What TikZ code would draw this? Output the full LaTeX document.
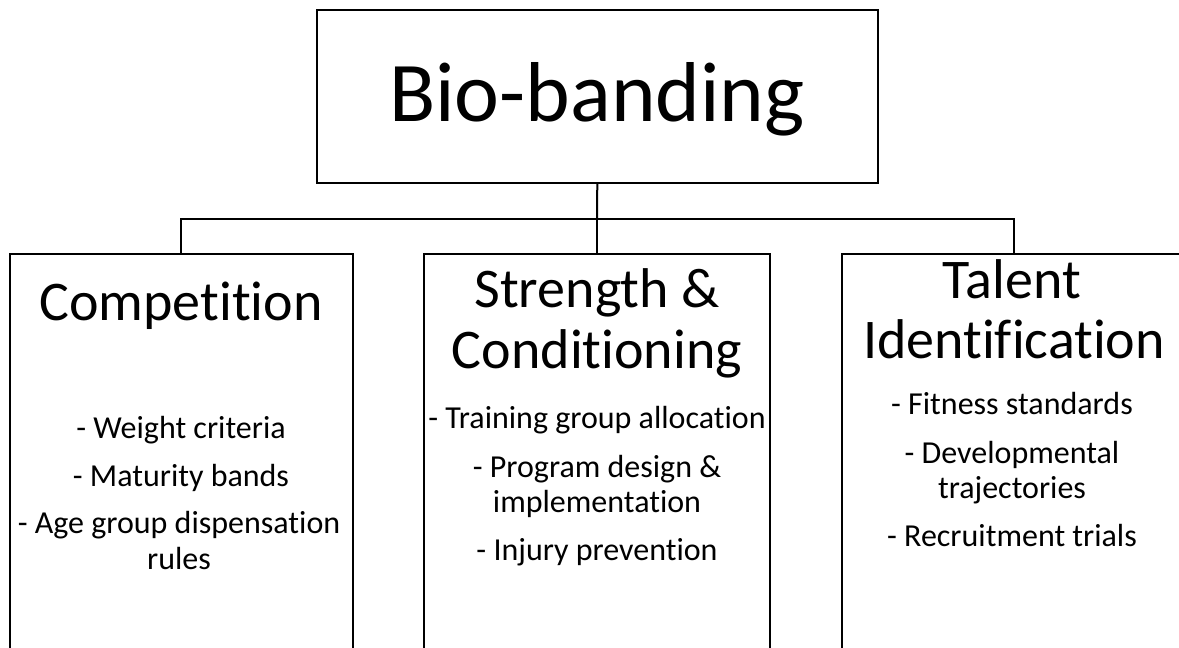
\documentclass[tikz,border=0pt]{standalone}
\usepackage{fontspec}
\setmainfont{Carlito}[Ligatures=NoCommon]
\begin{document}
\begin{tikzpicture}[x=1pt,y=-1pt,
  box/.style={draw=black,line width=2pt,rectangle,inner sep=0pt,fill=none},
  conn/.style={draw=black,line width=2pt},
  bigtitle/.style={font=\fontsize{85}{100}\selectfont,anchor=base,inner sep=0pt},
  subtitle/.style={font=\fontsize{56}{66}\selectfont,anchor=base,inner sep=0pt},
  item/.style={font=\fontsize{32}{35}\selectfont,anchor=base,inner sep=0pt}]
\useasboundingbox (0,0) rectangle (1179,648);
\clip (0,0) rectangle (1179,648);
% boxes
\node[box,minimum width=561pt,minimum height=173pt] (top) at (597.3,96.3) {};
\node[box,minimum width=342.7pt,minimum height=500pt] (left) at (181.3,504) {};
\node[box,minimum width=346pt,minimum height=500pt] (mid) at (597,504) {};
\node[box,minimum width=344pt,minimum height=500pt] (right) at (1014,504) {};
% connectors
\coordinate (bus) at (597,218.5);
\draw[conn] (top.south) -- (bus);
\draw[conn] (bus) -| (left.north);
\draw[conn] (bus) -| (right.north);
\draw[conn] (bus) -- (mid.north);
% texts
\node[bigtitle] (ttop) at (597,121) {Bio-banding};
\node[subtitle] (tl) at (181,320) {Competition};
\node[item] (l1) at (181,438) {- Weight criteria};
\node[item] (l2) at (181,486) {- Maturity bands};
\node[item] (l3) at (179,533) {- Age group dispensation};
\node[item] (l4) at (179,569) {rules};
\node[subtitle] (tm1) at (597,307) {Strength \&};
\node[subtitle] (tm2) at (597,368) {Conditioning};
\node[item] (m1) at (597,428) {- Training group allocation};
\node[item] (m2) at (597,477) {- Program design \&};
\node[item] (m3) at (597,512) {implementation};
\node[item] (m4) at (597,560) {- Injury prevention};
\node[subtitle] (tr1) at (1012,298) {Talent};
\node[subtitle] (tr2) at (1014,358) {Identification};
\node[item] (r1) at (1012,414) {- Fitness standards};
\node[item] (r2) at (1012,463) {- Developmental};
\node[item] (r3) at (1012,498) {trajectories};
\node[item] (r4) at (1012,546) {- Recruitment trials};
\end{tikzpicture}
\end{document}
